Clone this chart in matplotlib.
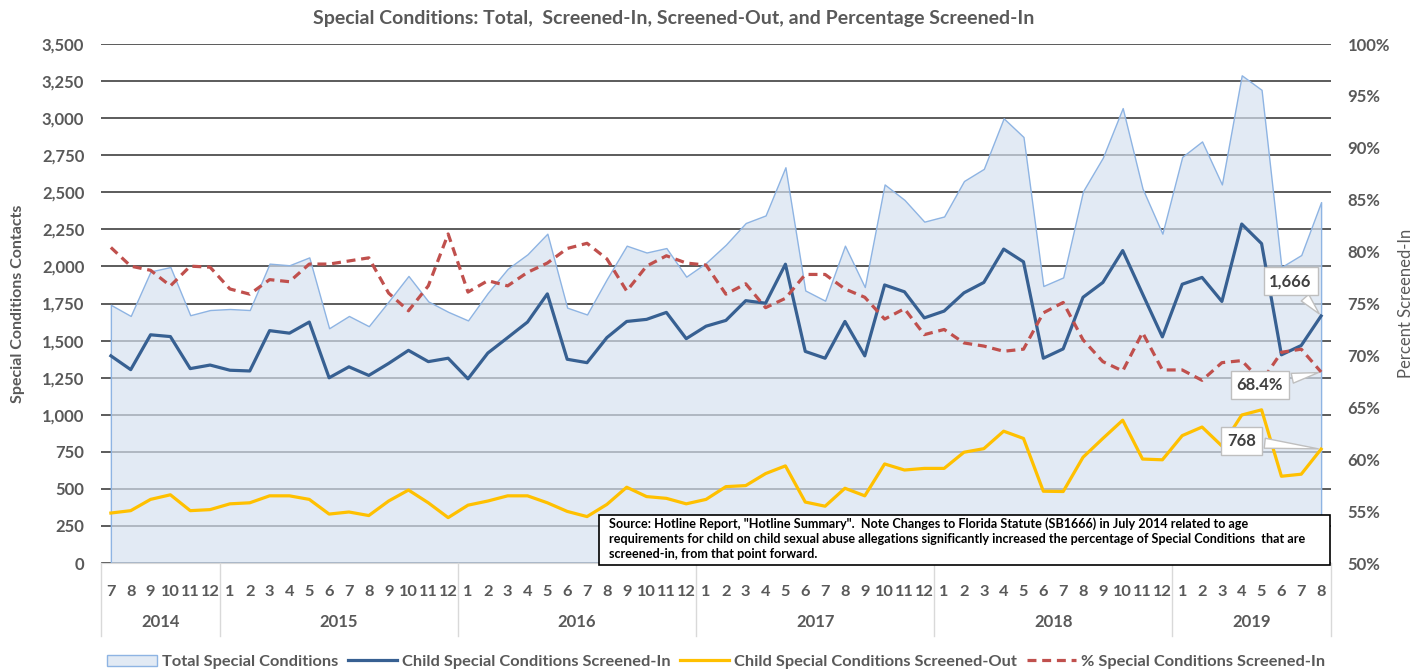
import numpy as np
import matplotlib
matplotlib.use("Agg")
import matplotlib.pyplot as plt
from matplotlib.patches import Patch, Rectangle
from matplotlib.lines import Line2D
from matplotlib.ticker import FuncFormatter, MultipleLocator
import matplotlib.transforms as mtransforms

plt.rcParams['font.family'] = ['Lato', 'DejaVu Sans']

# months Jul 2014 .. Aug 2019
months = list(range(7, 13)) + list(range(1, 13)) * 4 + list(range(1, 9))
years = [2014, 2015, 2016, 2017, 2018, 2019]
months_per_year = [6, 12, 12, 12, 12, 8]

total = [1741, 1666, 1966, 1996, 1671, 1706, 1713, 1706, 2019, 2008, 2061, 1583,
         1666, 1597, 1764, 1936, 1764, 1694, 1636, 1822, 1984, 2082, 2221, 1722,
         1676, 1915, 2140, 2094, 2124, 1931, 2024, 2147, 2293, 2344, 2669, 1838,
         1769, 2140, 1861, 2553, 2449, 2302, 2337, 2576, 2658, 2999, 2873, 1868,
         1926, 2507, 2734, 3068, 2525, 2221, 2739, 2843, 2553, 3289, 3191, 1996,
         2077, 2434]
screened_in = [1397, 1304, 1539, 1527, 1311, 1335, 1300, 1295, 1567, 1550, 1625, 1249,
               1323, 1265, 1346, 1434, 1358, 1381, 1242, 1416, 1520, 1625, 1815, 1374,
               1351, 1520, 1629, 1643, 1690, 1513, 1597, 1636, 1769, 1752, 2015, 1427,
               1381, 1629, 1397, 1875, 1829, 1653, 1699, 1822, 1892, 2117, 2031, 1381,
               1444, 1792, 1892, 2107, 1815, 1525, 1880, 1926, 1764, 2286, 2154, 1404,
               1467, 1666]
screened_out = [337, 353, 429, 460, 353, 360, 399, 406, 453, 453, 429, 330,
                344, 320, 418, 492, 406, 306, 390, 418, 453, 453, 406, 348,
                313, 395, 511, 448, 436, 399, 429, 515, 522, 603, 655, 411,
                383, 504, 453, 668, 627, 638, 638, 747, 771, 889, 840, 484,
                482, 713, 840, 963, 701, 696, 859, 917, 789, 998, 1033, 585,
                599, 768]
pct_in = [80.4, 78.6, 78.2, 76.7, 78.6, 78.5, 76.4, 75.9, 77.3, 77.1, 78.8, 78.8,
          79.1, 79.4, 76.0, 74.3, 76.7, 81.7, 76.1, 77.2, 76.7, 78.0, 78.9, 80.3,
          80.8, 79.3, 76.2, 78.6, 79.6, 78.9, 78.7, 75.9, 76.9, 74.6, 75.5, 77.8,
          77.8, 76.4, 75.6, 73.5, 74.5, 72.0, 72.5, 71.2, 70.9, 70.4, 70.6, 74.1,
          75.1, 71.5, 69.4, 68.5, 72.2, 68.6, 68.6, 67.6, 69.3, 69.5, 67.5, 70.3,
          70.6, 68.4]

note = ('Source: Hotline Report, "Hotline Summary".  Note Changes to Florida Statute (SB1666) in July 2014 related to age\n'
        'requirements for child on child sexual abuse allegations significantly increased the percentage of Special Conditions  that are\n'
        'screened-in, from that point forward.')

txt = '#595959'
c_area = (214/255, 225/255, 240/255, 0.69)
c_area_edge = '#8EB4E3'
c_in = '#376092'
c_out = '#FFC000'
c_pct = '#C0504D'

x = np.arange(len(months))

fig = plt.figure(figsize=(14.24, 6.72), dpi=100)
ax = fig.add_axes([0.0709, 0.1622, 0.8638, 0.7723])
ax2 = ax.twinx()

ax.fill_between(x, total, 0, facecolor=c_area, edgecolor=c_area_edge, lw=1.0, zorder=1)
ax.plot(x, screened_in, color=c_in, lw=2.3, zorder=3)
ax.plot(x, screened_out, color=c_out, lw=2.3, zorder=3)
ax2.plot(x, np.array(pct_in) / 100, color=c_pct, lw=2.3, dashes=(2.8, 1.8), zorder=3)

ax.set_xlim(-0.5, len(months) - 0.5)
ax.set_ylim(0, 3500)
ax2.set_ylim(0.5, 1.0)
ax.yaxis.set_major_locator(MultipleLocator(250))
ax2.yaxis.set_major_locator(MultipleLocator(0.05))
ax.yaxis.set_major_formatter(FuncFormatter(lambda v, p: f'{int(v):,}'))
ax2.yaxis.set_major_formatter(FuncFormatter(lambda v, p: f'{v*100:.0f}%'))

ax.set_axisbelow(True)
ax.yaxis.grid(True, color='#404040', lw=1.2)

for a in (ax, ax2):
    for s in a.spines.values():
        s.set_visible(False)
ax.spines['bottom'].set_visible(True)
ax.spines['bottom'].set_color('#D9D9D9')

ax.set_xticks(x)
ax.set_xticklabels([str(m) for m in months])
ax.tick_params(axis='x', length=0, pad=16, labelsize=11.8, labelcolor=txt)
ax.tick_params(axis='y', length=0, pad=12, labelsize=12, labelcolor=txt)
ax2.tick_params(axis='y', length=0, pad=12, labelsize=12, labelcolor=txt)
for lab in ax.get_xticklabels() + ax.get_yticklabels() + ax2.get_yticklabels():
    lab.set_fontweight('bold')

# year labels and separators below the month labels
trans = mtransforms.blended_transform_factory(ax.transData, ax.transAxes)
start = -0.5
edges = [start]
for yr, n in zip(years, months_per_year):
    ax.text(start + n / 2, -0.1137, str(yr), transform=trans, ha='center', va='center',
            fontsize=12, fontweight='bold', color=txt)
    start += n
    edges.append(start)
for e in edges:
    ax.add_line(Line2D([e, e], [0, -0.1407], transform=trans, color='#D9D9D9', lw=1, clip_on=False))

ax.set_ylabel('Special Conditions Contacts', fontsize=11.5, fontweight='bold', color=txt)
ax.yaxis.set_label_coords(-0.062, 0.5)
ax2.set_ylabel('Percent Screened-In', fontsize=12, color=txt)
ax2.yaxis.set_label_coords(1.0545, 0.5)

fig.text(0.473, 0.973, 'Special Conditions: Total,  Screened-In, Screened-Out, and Percentage Screened-In',
         ha='center', va='center', fontsize=14, fontweight='bold', color=txt)

# data callouts
box = dict(boxstyle='square,pad=0.35', fc='white', ec='#BFBFBF', lw=1)
arr = dict(arrowstyle='wedge,tail_width=0.6,shrink_factor=0.5', fc='white', ec='#BFBFBF', lw=1)
last = len(months) - 1
ax2.annotate(f'{screened_in[last]:,}', xy=(last, screened_in[last]), xycoords=ax.transData,
             xytext=(-22, 25), textcoords='offset points', ha='center', va='center',
             fontsize=12, fontweight='bold', color='#404040', bbox=box, arrowprops=arr, zorder=10)
ax2.annotate(f'{pct_in[last]:.1f}%', xy=(last, pct_in[last] / 100),
             xytext=(-44, -9.5), textcoords='offset points', ha='center', va='center',
             fontsize=12, fontweight='bold', color='#404040', bbox=box, arrowprops=arr, zorder=10)
ax2.annotate(f'{screened_out[last]:,}', xy=(last, screened_out[last]), xycoords=ax.transData,
             xytext=(-57.5, 6), textcoords='offset points', ha='center', va='center',
             fontsize=12, fontweight='bold', color='#404040', bbox=box, arrowprops=arr, zorder=10)

# source note box
fig.patches.append(Rectangle((599/1424, 1 - 565/672), 731/1424, 50/672, transform=fig.transFigure,
                             facecolor='white', edgecolor='black', lw=1.2, zorder=5))
fig.text(609/1424, 1 - 539/672, note, ha='left', va='center', fontsize=9.1, fontweight='bold',
         color='black', linespacing=1.3, zorder=6)

handles = [Patch(facecolor=c_area, edgecolor=c_area_edge, lw=1),
           Line2D([], [], color=c_in, lw=2.3),
           Line2D([], [], color=c_out, lw=2.3),
           Line2D([], [], color=c_pct, lw=2.3, dashes=(2.8, 1.8))]
labels = ['Total Special Conditions', 'Child Special Conditions Screened-In',
          'Child Special Conditions Screened-Out', '% Special Conditions Screened-In']
leg = fig.legend(handles, labels, loc='center', bbox_to_anchor=(0.503, 0.015), ncol=4, frameon=False,
                 handlelength=3.0, handletextpad=0.3, columnspacing=0.6, fontsize=11.8)
for t in leg.get_texts():
    t.set_color(txt)
    t.set_fontweight('bold')

fig.savefig('out.png', dpi=100)
